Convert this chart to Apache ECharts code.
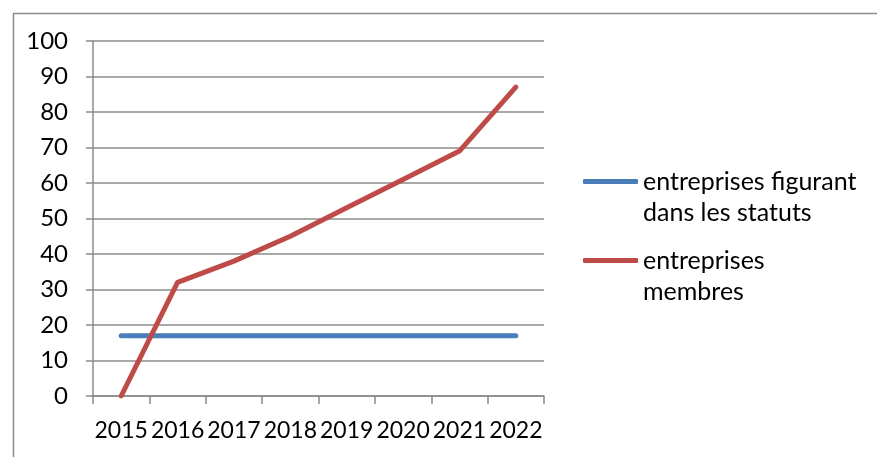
<!DOCTYPE html>
<html>
<head>
<meta charset="utf-8">
<script src="https://cdn.jsdelivr.net/npm/echarts@6/dist/echarts.min.js"></script>
<style>
  html, body { margin: 0; padding: 0; background: #fff; }
  #chart { width: 877px; height: 457px; }
</style>
</head>
<body>
<div id="chart"></div>
<script>
// Years on the category axis
const years = ['2015', '2016', '2017', '2018', '2019', '2020', '2021', '2022'];
// Companies named in the statutes
const statutCompanies = [17, 17, 17, 17, 17, 17, 17, 17];
// Member companies
const memberCompanies = [0, 32, 38, 45, 53, 61, 69, 87];
// Value axis ticks
const yMin = 0, yMax = 100, yStep = 10;

const seriesNames = ['entreprises figurant\ndans les statuts', 'entreprises\nmembres'];
const colors = ['#4a7ebb', '#be4b48'];
const gridGray = '#8c8c8c';
const font = 'Lato, "Open Sans", sans-serif';

const chart = echarts.init(document.getElementById('chart'));

// A blank leading line keeps the legend key level with the first text line.
const legendText = {
  fontFamily: font,
  fontSize: 25,
  color: '#000',
  lineHeight: 31
};
const legendLabel = name => '\n' + name;

chart.setOption({
  animation: false,
  color: colors,
  graphic: [{
    type: 'rect',
    left: 11, top: 11,
    shape: { width: 900, height: 500 },
    style: { fill: 'none', stroke: gridGray, lineWidth: 1.5 },
    silent: true
  }],
  grid: { left: 93, right: 333, top: 41, bottom: 61, containLabel: false },
  legend: [{
    data: [seriesNames[0]],
    orient: 'vertical',
    left: 578, top: 130,
    itemWidth: 55, itemHeight: 5,
    icon: 'roundRect',
    formatter: legendLabel,
    textStyle: legendText
  }, {
    data: [seriesNames[1]],
    orient: 'vertical',
    left: 578, top: 209,
    itemWidth: 55, itemHeight: 5,
    icon: 'roundRect',
    formatter: legendLabel,
    textStyle: legendText
  }],
  xAxis: {
    type: 'category',
    data: years,
    boundaryGap: true,
    axisLine: { lineStyle: { color: gridGray, width: 1.5 } },
    axisTick: { show: true, length: 8, lineStyle: { color: gridGray, width: 1.5 } },
    axisLabel: { fontFamily: font, fontSize: 23, color: '#000', margin: 23, interval: 0 },
    splitLine: { show: false }
  },
  yAxis: {
    type: 'value',
    min: yMin, max: yMax, interval: yStep,
    axisLine: { show: true, lineStyle: { color: gridGray, width: 1.5 } },
    axisTick: { show: true, length: 7, lineStyle: { color: gridGray, width: 1.5 } },
    axisLabel: { fontFamily: font, fontSize: 24, color: '#000', margin: 25 },
    splitLine: { show: true, lineStyle: { color: gridGray, width: 1.5 } }
  },
  series: [{
    name: seriesNames[0],
    type: 'line',
    data: statutCompanies,
    symbol: 'none',
    lineStyle: { width: 5, cap: 'round', join: 'round' },
    z: 3
  }, {
    name: seriesNames[1],
    type: 'line',
    data: memberCompanies,
    symbol: 'none',
    lineStyle: { width: 5, cap: 'round', join: 'round' },
    z: 4
  }]
});
</script>
</body>
</html>
